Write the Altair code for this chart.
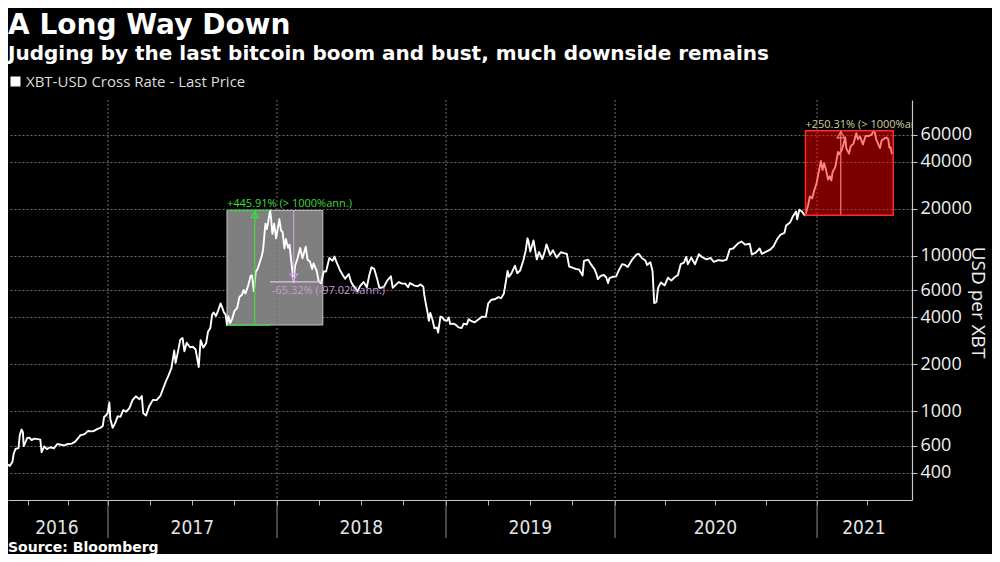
import datetime as _dt
import altair as alt
import pandas as pd

# ---------------- data ----------------
series_name = "XBT-USD Cross Rate - Last Price"

price_dates = [
    "2016-05-17", "2016-05-21", "2016-05-27", "2016-05-30", "2016-06-03", "2016-06-10", "2016-06-13",
    "2016-06-17", "2016-06-20", "2016-06-22", "2016-06-26", "2016-06-30", "2016-07-05", "2016-07-10",
    "2016-07-16", "2016-07-24", "2016-07-30", "2016-08-02", "2016-08-08", "2016-08-14", "2016-08-22",
    "2016-08-30", "2016-09-07", "2016-09-15", "2016-09-23", "2016-10-01", "2016-10-10", "2016-10-18",
    "2016-10-26", "2016-10-30", "2016-11-05", "2016-11-10", "2016-11-16", "2016-11-23", "2016-11-30",
    "2016-12-07", "2016-12-14", "2016-12-20", "2016-12-23", "2016-12-27", "2016-12-31",
    "2017-01-04", "2017-01-06", "2017-01-11", "2017-01-16", "2017-01-22", "2017-01-28", "2017-02-03",
    "2017-02-09", "2017-02-16", "2017-02-23", "2017-03-02", "2017-03-10", "2017-03-15", "2017-03-18",
    "2017-03-24", "2017-03-31", "2017-04-08", "2017-04-16", "2017-04-24", "2017-05-01", "2017-05-06",
    "2017-05-12", "2017-05-18", "2017-05-24", "2017-05-27", "2017-06-01", "2017-06-06", "2017-06-11",
    "2017-06-15", "2017-06-20", "2017-06-27", "2017-07-03", "2017-07-09", "2017-07-16", "2017-07-20",
    "2017-07-26", "2017-08-01", "2017-08-05", "2017-08-10", "2017-08-14", "2017-08-17", "2017-08-22",
    "2017-08-26", "2017-09-01", "2017-09-05", "2017-09-08", "2017-09-12", "2017-09-15", "2017-09-18",
    "2017-09-22", "2017-09-26", "2017-10-01", "2017-10-07", "2017-10-12", "2017-10-17", "2017-10-21",
    "2017-10-25", "2017-10-31", "2017-11-05", "2017-11-08", "2017-11-12", "2017-11-16", "2017-11-20",
    "2017-11-26", "2017-11-29", "2017-12-02", "2017-12-07", "2017-12-10", "2017-12-13", "2017-12-17",
    "2017-12-19", "2017-12-22", "2017-12-26", "2017-12-30",
    "2018-01-03", "2018-01-06", "2018-01-10", "2018-01-13", "2018-01-17", "2018-01-20", "2018-01-25",
    "2018-01-28", "2018-02-01", "2018-02-06", "2018-02-09", "2018-02-14", "2018-02-20", "2018-02-25",
    "2018-03-04", "2018-03-08", "2018-03-13", "2018-03-18", "2018-03-21", "2018-03-28", "2018-04-01",
    "2018-04-06", "2018-04-12", "2018-04-17", "2018-04-24", "2018-05-01", "2018-05-05", "2018-05-10",
    "2018-05-17", "2018-05-23", "2018-05-28", "2018-06-05", "2018-06-10", "2018-06-15", "2018-06-24",
    "2018-06-30", "2018-07-07", "2018-07-14", "2018-07-19", "2018-07-24", "2018-07-30", "2018-08-06",
    "2018-08-10", "2018-08-14", "2018-08-20", "2018-08-27", "2018-09-04", "2018-09-08", "2018-09-15",
    "2018-09-21", "2018-09-28", "2018-10-05", "2018-10-11", "2018-10-15", "2018-10-25", "2018-11-01",
    "2018-11-07", "2018-11-13", "2018-11-15", "2018-11-19", "2018-11-22", "2018-11-25", "2018-11-28",
    "2018-12-03", "2018-12-07", "2018-12-12", "2018-12-15", "2018-12-20", "2018-12-24", "2018-12-28",
    "2019-01-03", "2019-01-07", "2019-01-10", "2019-01-16", "2019-01-22", "2019-01-28", "2019-02-04",
    "2019-02-08", "2019-02-15", "2019-02-19", "2019-02-24", "2019-03-04", "2019-03-12", "2019-03-20",
    "2019-03-28", "2019-04-02", "2019-04-09", "2019-04-16", "2019-04-24", "2019-04-30", "2019-05-06",
    "2019-05-11", "2019-05-14", "2019-05-17", "2019-05-22", "2019-05-30", "2019-06-04", "2019-06-10",
    "2019-06-17", "2019-06-22", "2019-06-26", "2019-06-28", "2019-07-02", "2019-07-09", "2019-07-16",
    "2019-07-21", "2019-07-28", "2019-08-03", "2019-08-06", "2019-08-14", "2019-08-20", "2019-08-28",
    "2019-09-06", "2019-09-13", "2019-09-19", "2019-09-24", "2019-10-01", "2019-10-08", "2019-10-15",
    "2019-10-23", "2019-10-26", "2019-11-04", "2019-11-11", "2019-11-18", "2019-11-22", "2019-11-25",
    "2019-12-01", "2019-12-08", "2019-12-13", "2019-12-17", "2019-12-20", "2019-12-27",
    "2020-01-03", "2020-01-08", "2020-01-14", "2020-01-19", "2020-01-24", "2020-02-01", "2020-02-09",
    "2020-02-13", "2020-02-19", "2020-02-25", "2020-02-28", "2020-03-05", "2020-03-09", "2020-03-12",
    "2020-03-16", "2020-03-19", "2020-03-24", "2020-03-31", "2020-04-06", "2020-04-12", "2020-04-18",
    "2020-04-24", "2020-04-29", "2020-05-05", "2020-05-09", "2020-05-12", "2020-05-18", "2020-05-25",
    "2020-06-01", "2020-06-07", "2020-06-15", "2020-06-22", "2020-06-28", "2020-07-06", "2020-07-14",
    "2020-07-21", "2020-07-27", "2020-08-02", "2020-08-10", "2020-08-17", "2020-08-24", "2020-09-01",
    "2020-09-05", "2020-09-12", "2020-09-19", "2020-09-23", "2020-10-01", "2020-10-08", "2020-10-14",
    "2020-10-21", "2020-10-27", "2020-11-03", "2020-11-06", "2020-11-13", "2020-11-18", "2020-11-24",
    "2020-11-26", "2020-11-30", "2020-12-05", "2020-12-08", "2020-12-11", "2020-12-16", "2020-12-19",
    "2020-12-23", "2020-12-27", "2020-12-31",
    "2021-01-03", "2021-01-08", "2021-01-11", "2021-01-14", "2021-01-17", "2021-01-21", "2021-01-24",
    "2021-01-27", "2021-01-29", "2021-02-03", "2021-02-08", "2021-02-10", "2021-02-15", "2021-02-18",
    "2021-02-21", "2021-02-23", "2021-02-28", "2021-03-03", "2021-03-08", "2021-03-13", "2021-03-16",
    "2021-03-20", "2021-03-25", "2021-03-30", "2021-04-05", "2021-04-10", "2021-04-13", "2021-04-16",
    "2021-04-18", "2021-04-22", "2021-04-25", "2021-04-28", "2021-05-03", "2021-05-07", "2021-05-10",
    "2021-05-12", "2021-05-14", "2021-05-17",
]

price_values = [
    454, 443, 470, 530, 570, 578, 700,
    760, 735, 595, 630, 672, 675, 650,
    665, 660, 655, 545, 592, 570, 585,
    575, 614, 607, 602, 614, 617, 636,
    677, 700, 705, 715, 745, 740, 745,
    765, 780, 800, 915, 935, 965,
    1135, 890, 780, 830, 925, 920, 1015,
    990, 1040, 1175, 1245, 1190, 1250, 970,
    935, 1075, 1180, 1175, 1250, 1420, 1550,
    1700, 1890, 2450, 2040, 2400, 2870, 2950,
    2420, 2750, 2570, 2590, 2500, 1920, 2860,
    2560, 2730, 3230, 3420, 4180, 4300, 4090,
    4350, 4920, 4600, 4330, 4170, 3574, 4070,
    3680, 3900, 4390, 4600, 5440, 5580, 6000,
    5700, 6450, 7400, 7450, 5900, 7850, 8200,
    9300, 9900, 10900, 16000, 14800, 16500, 19511,
    17600, 13800, 16000, 12900,
    15100, 17100, 14400, 14200, 11100, 12800, 11200,
    11750, 9100, 6764, 8600, 9500, 11200, 9600,
    11400, 9400, 9150, 8200, 8900, 7900, 6850,
    6630, 7900, 7900, 9650, 9250, 9850, 9000,
    8050, 7500, 7100, 7600, 6750, 6400, 5900,
    6400, 6750, 6250, 7400, 8400, 8200, 6950,
    6200, 6200, 6300, 6900, 7350, 6200, 6500,
    6750, 6600, 6600, 6250, 6650, 6400, 6350,
    6520, 6300, 5600, 4800, 4330, 3800, 4280,
    3850, 3400, 3450, 3200, 4050, 4000, 3850,
    3800, 4000, 3630, 3650, 3590, 3450, 3420,
    3650, 3600, 3900, 3800, 3720, 3880, 4050,
    4030, 4900, 5200, 5230, 5400, 5320, 5700,
    7000, 7950, 7300, 7650, 8600, 7700, 8000,
    9300, 10700, 12900, 12400, 10600, 12500, 9450,
    10550, 9500, 10800, 11800, 10100, 10800, 9700,
    10500, 10350, 10250, 8500, 8350, 8200, 8150,
    7450, 9250, 9400, 8700, 8150, 7600, 7050,
    7400, 7500, 7250, 6650, 7150, 7300,
    7350, 8050, 8800, 8700, 8450, 9400, 10150,
    10250, 9600, 9300, 8700, 9050, 7950, 4950,
    5030, 6200, 6700, 6430, 7200, 6900, 7250,
    7500, 8800, 9000, 9800, 8800, 9700, 8800,
    10200, 9750, 9450, 9650, 9100, 9350, 9250,
    9400, 11000, 11100, 11900, 12300, 11750, 11900,
    10150, 10450, 11100, 10250, 10600, 10900, 11450,
    12800, 13650, 14000, 15600, 16300, 17800, 19150,
    17100, 19700, 19150, 18400, 18127, 21300, 24000,
    23300, 26300, 29000,
    33000, 40500, 35500, 39200, 35800, 30800, 32300,
    30400, 34300, 37000, 46400, 44800, 47900, 52200,
    57500, 48800, 45200, 50500, 52300, 61200, 56000,
    58300, 51700, 58800, 58700, 59800, 63500, 61300,
    56000, 51800, 49100, 54900, 56600, 57500, 55800,
    49400, 49700, 44800,
]

# axis helpers
year_bounds = ["2017-01-01", "2018-01-01", "2019-01-01", "2020-01-01", "2021-01-01"]
year_labels = ["2016", "2017", "2018", "2019", "2020", "2021"]
year_label_dates = ["2016-09-06", "2017-07-02", "2018-07-02", "2019-07-02", "2020-07-01", "2021-03-27"]
quarter_ticks = [
    "2016-07-01", "2016-10-01", "2017-01-01", "2017-04-01", "2017-07-01", "2017-10-01",
    "2018-01-01", "2018-04-01", "2018-07-01", "2018-10-01", "2019-01-01", "2019-04-01",
    "2019-07-01", "2019-10-01", "2020-01-01", "2020-04-01", "2020-07-01", "2020-10-01",
    "2021-01-01", "2021-04-01",
]
x_domain_dates = ["2016-05-17", "2017-01-01", "2020-01-01", "2021-06-22"]
y_ticks = [400, 600, 1000, 2000, 4000, 6000, 10000, 20000, 40000, 60000]

# annotation boxes (gray = 2017 boom, red = 2021 boom)
box_start = ["2017-09-15", "2020-12-11"]
box_end = ["2018-04-10", "2021-05-19"]
box_low = [3574, 18127]
box_high = [19511, 63500]

# measurement lines
meas_x = ["2017-11-14", "2017-09-15", "2017-09-15", "2018-02-06", "2017-12-17", "2021-02-13"]
meas_x2 = ["2017-11-14", "2017-12-17", "2017-12-17", "2018-02-06", "2018-04-10", "2021-02-13"]
meas_y = [3574, 3574, 19511, 19511, 6764, 18127]
meas_y2 = [19511, 3574, 19511, 6764, 6764, 63500]
meas_color = ["#3ddc3d", "#3ddc3d", "#3ddc3d", "#c99ad8", "#dcc4e4", "#ffe6e6"]

# triangle markers
tri_x = ["2017-11-14", "2021-02-13", "2018-02-06"]
tri_y = [19511, 63500, 6764]
tri_shape = ["triangle-up", "triangle-up", "triangle-down"]
tri_color = ["#3ddc3d", "#f08a6a", "#c99ad8"]

# measurement labels
lab_text = ["+445.91% (> 1000%ann.)", "+250.31% (> 1000%ann.)", "-65.32% (-97.02%ann.)"]
lab_x = ["2017-09-15", "2020-12-11", "2017-12-21"]
lab_y = [19511, 63500, 6764]
lab_color = ["#3ddc3d", "#d2cf9c", "#c99ad8"]

source_text = ["Source: Bloomberg"]


# ---------------- helpers ----------------
def ms(s):
    y, m, d = (int(v) for v in s.split("-"))
    return int(_dt.datetime(y, m, d, tzinfo=_dt.timezone.utc).timestamp() * 1000)


def with_time(chart, *fields):
    # convert ISO date strings to epoch milliseconds inside Vega
    return chart.transform_calculate(**{f + "_t": f"+toDate(datum.{f})" for f in fields})


price_df = pd.DataFrame({"date": price_dates, "price": price_values, "series": series_name})
bounds_df = pd.DataFrame({"date": year_bounds})
ylab_df = pd.DataFrame({"date": year_label_dates, "label": year_labels})
box_df = pd.DataFrame({"start": box_start, "end": box_end, "low": box_low, "high": box_high})
gray_box_df = box_df.iloc[[0]]
red_box_df = box_df.iloc[[1]]
meas_df = pd.DataFrame({"x": meas_x, "x2": meas_x2, "y": meas_y, "y2": meas_y2, "c": meas_color})
tri_df = pd.DataFrame({"x": tri_x, "y": tri_y, "s": tri_shape, "c": tri_color})
lab_df = pd.DataFrame({"x": lab_x, "y": lab_y, "t": lab_text, "c": lab_color})
src_df = pd.DataFrame({"t": source_text})

W, H = 904, 400
# piecewise time scale (2020-21 is drawn wider than earlier years, as in the source chart)
x_scale = alt.Scale(type="linear", domain=[ms(s) for s in x_domain_dates],
                    range=[0, 100, 607, W], zero=False, nice=False)
y_scale = alt.Scale(type="log", domain=[268, 100000], nice=False)

LABEL_FONT = "Open Sans"
NARROW = "Liberation Sans Narrow, DejaVu Sans Condensed, sans-serif"

x_axis = alt.Axis(
    values=[ms(s) for s in quarter_ticks], labels=False, title=None, grid=False,
    ticks=True, tickSize=5, tickColor="#b8b8b8", domainColor="#c8c8c8", domainWidth=1.2,
)
y_axis = alt.Axis(
    orient="right", values=y_ticks, format="d", title="USD per XBT",
    labelFont=LABEL_FONT, labelFontSize=18, labelColor="#f0f0f0", labelPadding=3,
    tickSize=5, tickColor="#c8c8c8", domainColor="#c8c8c8", domainWidth=1.2,
    grid=True, gridColor="#6e6e6e", gridDash=[2, 2], gridWidth=1,
    titleFont=LABEL_FONT, titleFontSize=19, titleFontWeight="normal",
    titleColor="#f0f0f0", titleAngle=90, titleX=65, titleY=202,
    titleAlign="center", titleBaseline="middle",
)

gray_box = with_time(alt.Chart(gray_box_df), "start", "end").mark_rect(
    fill="#7f7f7f", stroke="#c4c4c4", strokeWidth=1
).encode(
    x=alt.X("start_t:Q", scale=x_scale, axis=x_axis),
    x2="end_t:Q",
    y=alt.Y("low:Q", scale=y_scale, axis=y_axis),
    y2="high:Q",
)

year_grid = with_time(alt.Chart(bounds_df), "date").mark_rule(
    color="#6e6e6e", strokeDash=[2, 2], strokeWidth=1
).encode(
    x=alt.X("date_t:Q"),
    y=alt.value(0), y2=alt.value(H),
)

year_sep = with_time(alt.Chart(bounds_df), "date").mark_rule(color="#8c8c8c", strokeWidth=1).encode(
    x=alt.X("date_t:Q"),
    y=alt.value(H), y2=alt.value(H + 38),
)

year_text = with_time(alt.Chart(ylab_df), "date").mark_text(
    font=NARROW, fontSize=19, color="#e4e4e4", align="center", baseline="alphabetic"
).encode(
    x=alt.X("date_t:Q"),
    y=alt.value(H + 34),
    text="label:N",
)

line = with_time(alt.Chart(price_df), "date").mark_line(strokeWidth=1.9, strokeJoin="round").encode(
    x=alt.X("date_t:Q"),
    y=alt.Y("price:Q"),
    color=alt.Color(
        "series:N",
        scale=alt.Scale(domain=[series_name], range=["#ffffff"]),
        legend=alt.Legend(
            orient="none", legendX=0, legendY=-26, title=None, padding=0,
            symbolType="square", symbolSize=100, symbolFillColor="#ffffff",
            symbolStrokeColor="#ffffff", symbolStrokeWidth=0, symbolOpacity=1,
            labelFont=LABEL_FONT, labelFontSize=15, labelColor="#dcdcdc",
            labelOffset=3, labelLimit=400,
        ),
    ),
)

meas = with_time(alt.Chart(meas_df), "x", "x2").mark_rule(strokeWidth=1.2).encode(
    x=alt.X("x_t:Q"), x2="x2_t:Q",
    y=alt.Y("y:Q"), y2="y2:Q",
    stroke=alt.Stroke("c:N", scale=None),
)

red_box = with_time(alt.Chart(red_box_df), "start", "end").mark_rect(
    fill="#ff0000", fillOpacity=0.48, stroke="#ff2a2a", strokeWidth=1.5
).encode(
    x=alt.X("start_t:Q"),
    x2="end_t:Q",
    y=alt.Y("low:Q"),
    y2="high:Q",
)

tri_up = with_time(alt.Chart(tri_df), "x").transform_filter(alt.datum.s == "triangle-up").mark_point(
    filled=False, size=55, strokeWidth=1.2, yOffset=4, opacity=1
).encode(
    x=alt.X("x_t:Q"),
    y=alt.Y("y:Q"),
    shape=alt.Shape("s:N", scale=None),
    stroke=alt.Stroke("c:N", scale=None),
)
tri_down = with_time(alt.Chart(tri_df), "x").transform_filter(alt.datum.s == "triangle-down").mark_point(
    filled=False, size=55, strokeWidth=1.2, yOffset=-5, opacity=1
).encode(
    x=alt.X("x_t:Q"),
    y=alt.Y("y:Q"),
    shape=alt.Shape("s:N", scale=None),
    stroke=alt.Stroke("c:N", scale=None),
)

lab_above = with_time(alt.Chart(lab_df), "x").transform_filter(alt.datum.y > 10000).mark_text(
    font=LABEL_FONT, fontSize=11, align="left", baseline="alphabetic", dy=-3, clip=True
).encode(
    x=alt.X("x_t:Q"),
    y=alt.Y("y:Q"),
    text="t:N",
    fill=alt.Fill("c:N", scale=None),
)
lab_below = with_time(alt.Chart(lab_df), "x").transform_filter(alt.datum.y < 10000).mark_text(
    font=LABEL_FONT, fontSize=11, align="left", baseline="top", dy=3
).encode(
    x=alt.X("x_t:Q"),
    y=alt.Y("y:Q"),
    text="t:N",
    fill=alt.Fill("c:N", scale=None),
)

source = alt.Chart(src_df).mark_text(
    font="DejaVu Sans", fontSize=14, fontWeight="bold", color="#ffffff",
    align="left", baseline="alphabetic"
).encode(
    x=alt.value(0), y=alt.value(H + 52), text="t:N",
)

chart = alt.layer(
    gray_box, year_grid, year_sep, year_text, line, meas, red_box,
    tri_up, tri_down, lab_above, lab_below, source,
).properties(
    width=W, height=H,
    autosize=alt.AutoSizeParams(type="none"),
    padding={"left": 0, "top": 92, "right": 80, "bottom": 54},
    background="#000000",
    title=alt.TitleParams(
        text="A Long Way Down",
        subtitle="Judging by the last bitcoin boom and bust, much downside remains",
        anchor="start", frame="group", offset=10,
        font="DejaVu Sans", fontSize=28, fontWeight="bold", color="#ffffff",
        subtitleFont="DejaVu Sans", subtitleFontSize=20, subtitleFontWeight="bold",
        subtitleColor="#ffffff", subtitlePadding=4,
    ),
).configure_view(strokeWidth=0)

chart.save("out.html", embed_options={"renderer": "svg", "actions": False})
